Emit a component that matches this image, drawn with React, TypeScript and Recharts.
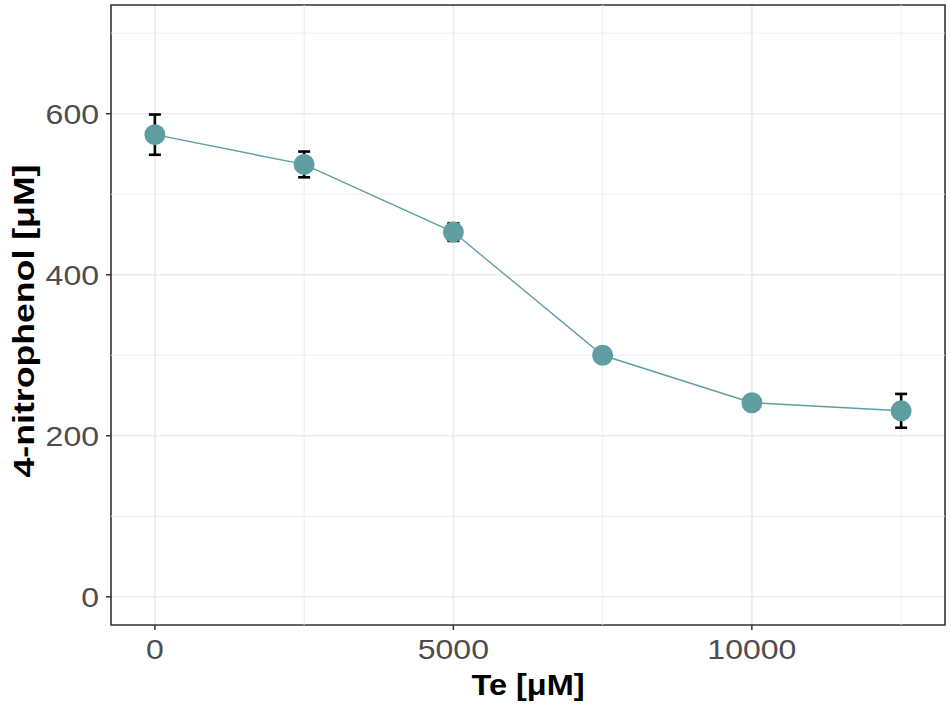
import {
  ComposedChart,
  Line,
  Scatter,
  XAxis,
  YAxis,
  CartesianGrid,
  ReferenceLine,
  ReferenceArea,
  ErrorBar,
  Label,
} from "recharts";

const teLevels = [0, 2500, 5000, 7500, 10000, 12500];
const nitrophenol = [574, 537, 453, 300, 241, 231];
const sdError = [25, 16, 11, 5, 4, 21];

const xTicks = [0, 5000, 10000];
const xMinor = [2500, 7500, 12500];
const yTicks = [0, 200, 400, 600];
const yMinor = [100, 300, 500, 700];

const X_DOMAIN: [number, number] = [-735, 13235];
const Y_DOMAIN: [number, number] = [-35, 735];

const data = teLevels.map((te, i) => ({
  te,
  value: nitrophenol[i],
  err: sdError[i],
}));

const FONT = "'Liberation Sans', Arial, sans-serif";
const POINT = "#5F9EA0";
const DIGIT_W = 17.8; // the source text is a bit wider than plain Arial

function AxisTick(props: any) {
  const { x, y, payload, textAnchor, vertical } = props;
  const label = String(payload.value);
  return (
    <text
      x={x}
      y={y}
      dy={vertical ? "0.36em" : "0.71em"}
      textAnchor={textAnchor}
      fill="#4D4D4D"
      fontFamily={FONT}
      fontSize={28.5}
      textLength={label.length * DIGIT_W}
      lengthAdjust="spacingAndGlyphs"
    >
      {label}
    </text>
  );
}

function XTitle(props: any) {
  const vb = props.viewBox || {};
  return (
    <text
      x={vb.x + vb.width / 2}
      y={vb.y + 70}
      textAnchor="middle"
      fontFamily={FONT}
      fontWeight="bold"
      fontSize={30}
      fill="#000"
      textLength={113}
      lengthAdjust="spacingAndGlyphs"
    >
      Te [μM]
    </text>
  );
}

function YTitle(props: any) {
  const vb = props.viewBox || {};
  const cx = vb.x + 23;
  const cy = vb.y + vb.height / 2 + 6;
  return (
    <text
      x={cx}
      y={cy}
      transform={`rotate(-90, ${cx}, ${cy})`}
      textAnchor="middle"
      dominantBaseline="central"
      fontFamily={FONT}
      fontWeight="bold"
      fontSize={30}
      fill="#000"
      textLength={313}
      lengthAdjust="spacingAndGlyphs"
    >
      4-nitrophenol [μM]
    </text>
  );
}

function PointDot(props: any) {
  const { cx, cy } = props;
  return <circle cx={cx} cy={cy} r={10.5} fill={POINT} />;
}

export default function App() {
  return (
    <div style={{ position: "absolute", left: 0, top: 0, background: "#fff" }}>
      <ComposedChart
        width={951}
        height={711}
        data={data}
        margin={{ top: 5, right: 6, left: 0, bottom: 0 }}
      >
        <CartesianGrid
          stroke="#EBEBEB"
          strokeWidth={1.6}
          horizontalValues={yTicks}
          verticalValues={xTicks}
        />
        {xMinor.map((v) => (
          <ReferenceLine key={`xm${v}`} x={v} stroke="#EBEBEB" strokeWidth={0.9} />
        ))}
        {yMinor.map((v) => (
          <ReferenceLine key={`ym${v}`} y={v} stroke="#EBEBEB" strokeWidth={0.9} />
        ))}
        <XAxis
          dataKey="te"
          type="number"
          domain={X_DOMAIN}
          ticks={xTicks}
          allowDataOverflow
          axisLine={false}
          tickLine={{ stroke: "#333", strokeWidth: 1.5 }}
          tickSize={5}
          tickMargin={9}
          tick={<AxisTick />}
          height={86}
        >
          <Label content={<XTitle />} />
        </XAxis>
        <YAxis
          type="number"
          domain={Y_DOMAIN}
          ticks={yTicks}
          allowDataOverflow
          axisLine={false}
          tickLine={{ stroke: "#333", strokeWidth: 1.5 }}
          tickSize={5}
          tickMargin={7}
          tick={<AxisTick vertical />}
          width={111}
        >
          <Label content={<YTitle />} />
        </YAxis>
        <ReferenceArea
          x1={X_DOMAIN[0]}
          x2={X_DOMAIN[1]}
          y1={Y_DOMAIN[0]}
          y2={Y_DOMAIN[1]}
          fill="none"
          fillOpacity={0}
          stroke="#333"
          strokeWidth={1.6}
          ifOverflow="visible"
        />
        <Line
          dataKey="value"
          type="linear"
          stroke={POINT}
          strokeWidth={1.4}
          dot={false}
          activeDot={false}
          isAnimationActive={false}
        >
          {/* width here is the half-length of each cap */}
          <ErrorBar dataKey="err" width={6} stroke="#000" strokeWidth={2.6} />
        </Line>
        {/* points on their own series so they cover the error bars */}
        <Scatter
          dataKey="value"
          shape={<PointDot />}
          legendType="none"
          isAnimationActive={false}
        />
      </ComposedChart>
    </div>
  );
}
